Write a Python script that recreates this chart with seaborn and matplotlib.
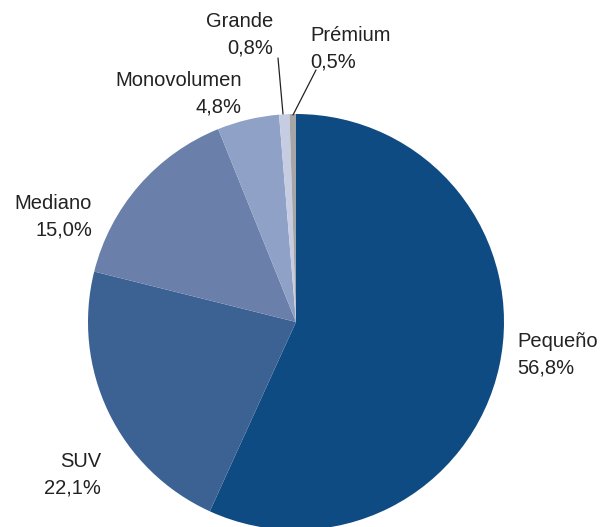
import matplotlib
matplotlib.use("Agg")
import matplotlib.pyplot as plt
import seaborn as sns

# segment shares (%), clockwise from the top
categories = ["Pequeño", "SUV", "Mediano", "Monovolumen", "Grande", "Prémium"]
shares = [56.8, 22.1, 15.0, 4.8, 0.8, 0.5]
colors = ["#0f4b83", "#3b6293", "#6a7fa9", "#8fa1c6", "#c6cde2", "#a6a6a6"]

sns.set_theme(style="white")
plt.rcParams['font.family'] = ['Liberation Sans', 'DejaVu Sans']

W, H = 601, 527
fig = plt.figure(figsize=(W / 100, H / 100), dpi=100)
ax = fig.add_axes([0, 0, 1, 1])

cx, cy, r = 296, H - 322, 208
ax.pie(shares, colors=colors, startangle=90, counterclock=False,
       center=(cx, cy), radius=r, frame=True,
       wedgeprops=dict(linewidth=0))
ax.set_xlim(0, W)
ax.set_ylim(0, H)
ax.axis("off")

def fmt(v):
    return f"{v:.1f}".replace(".", ",") + "%"

# label anchors in pixel coords (x, vertical middle of the two lines, alignment)
label_pos = {
    "Pequeño": (517, 355, "left"),
    "SUV": (101, 475, "right"),
    "Mediano": (92, 217, "right"),
    "Monovolumen": (242, 94, "right"),
    "Grande": (273, 35, "right"),
    "Prémium": (310, 49, "left"),
}
for cat, v in zip(categories, shares):
    x, y, ha = label_pos[cat]
    ax.text(x, H - y, cat + "\n" + fmt(v), ha=ha, va="center",
            fontsize=14.5, color="#222222", linespacing=1.5)

# leader lines for the tiny slices
ax.plot([278, 283], [H - 58, H - 114], color="#222222", lw=0.9)
ax.plot([316, 293], [H - 70, H - 115], color="#222222", lw=0.9)

fig.savefig("out.png", dpi=100)
